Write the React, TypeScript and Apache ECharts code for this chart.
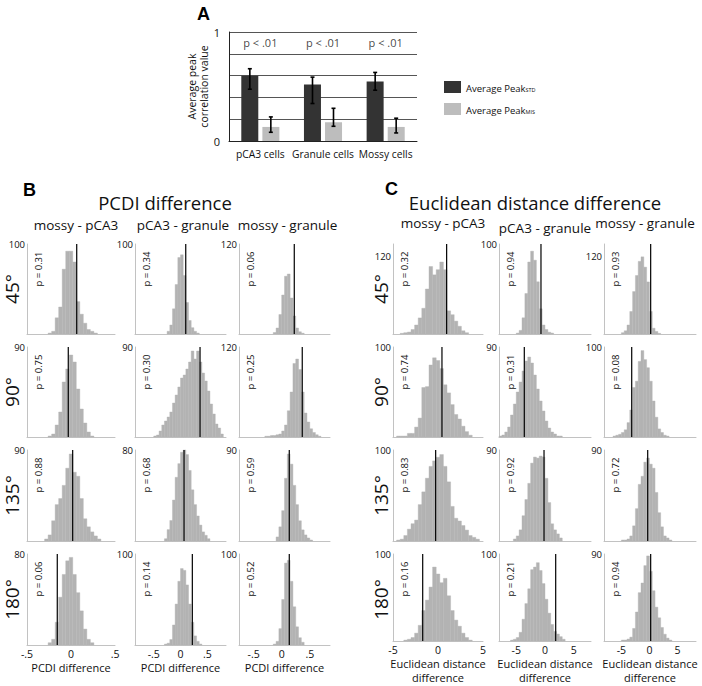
import React, { useEffect, useRef } from 'react';
import * as echarts from 'echarts';

// ---------------- Panel A data ----------------
const cellTypes = ['pCA3 cells', 'Granule cells', 'Mossy cells'];
const peakStd = [0.598, 0.518, 0.546];
const peakStdLow = [0.475, 0.344, 0.466];
const peakStdHigh = [0.663, 0.586, 0.629];
const peakMis = [0.129, 0.172, 0.129];
const peakMisLow = [0.08, 0.135, 0.074];
const peakMisHigh = [0.221, 0.3, 0.209];
const pTextA = ['p < .01', 'p < .01', 'p < .01'];
const yTicksA = [0, 1];

// ---------------- Panels B / C labels ----------------
const angles = ['45°', '90°', '135°', '180°'];
const comparisons = ['mossy - pCA3', 'pCA3 - granule', 'mossy - granule'];

// ---------------- Panel B: PCDI difference (counts per bin) ----------------
const pcdi45 = [
  [1, 3, 18, 30, 72, 92, 92, 80, 36, 22, 12, 5, 3, 1],
  [3, 10, 28, 55, 85, 88, 65, 35, 15, 7, 3, 1],
  [2, 8, 26, 52, 77, 80, 48, 24, 8, 3, 1],
];
const pcdi90 = [
  [1, 3, 12, 25, 55, 68, 82, 75, 48, 28, 14, 5, 1],
  [1, 2, 6, 12, 16, 20, 25, 34, 42, 50, 59, 62, 68, 75, 86, 78, 86, 75, 64, 56, 46, 33, 23, 13, 9, 3],
  [1, 1, 2, 2, 3, 4, 8, 16, 35, 60, 98, 104, 90, 60, 32, 20, 11, 6, 3, 1],
];
const pcdi135 = [
  [2, 6, 20, 36, 42, 55, 72, 86, 68, 64, 42, 22, 14, 9, 5, 2],
  [2, 10, 18, 36, 56, 68, 78, 80, 76, 62, 45, 32, 22, 14, 8, 5, 2],
  [4, 14, 30, 62, 86, 76, 55, 36, 20, 11, 6, 3, 1],
];
const pcdi180 = [
  [2, 5, 20, 42, 62, 74, 77, 62, 46, 30, 14, 5, 2],
  [1, 2, 6, 22, 45, 70, 84, 82, 66, 45, 25, 10, 4, 1],
  [1, 4, 18, 50, 90, 93, 70, 42, 20, 8, 3],
];
const pcdiBinStart = [
  [-0.26, -0.25, -0.15],
  [-0.26, -0.5, -0.3],
  [-0.3, -0.3, -0.1],
  [-0.26, -0.3, -0.15],
];
const pcdiBinWidth = [0.04, 0.05, 0.05];
const pcdiObserved = [
  [0.065, 0.098, 0.224],
  [-0.031, 0.365, 0.366],
  [0.019, 0.066, 0.135],
  [-0.156, 0.221, 0.135],
];
const pcdiP = [
  ['0.31', '0.34', '0.06'],
  ['0.75', '0.30', '0.25'],
  ['0.88', '0.68', '0.59'],
  ['0.06', '0.14', '0.52'],
];
const pcdiYMax = [
  [100, 100, 120],
  [90, 90, 120],
  [90, 80, 90],
  [80, 100, 100],
];
const pcdiYLabel = [
  [100, 100, 120],
  [90, 90, 120],
  [90, 80, 90],
  [80, 100, 100],
];
const pcdiXMin = [-0.5, -0.85, -0.76];
const pcdiXMax = [0.5, 0.85, 0.86];
const pcdiTicks = [-0.5, 0, 0.5];

// ---------------- Panel C: Euclidean distance difference ----------------
const euc45 = [
  [1, 2, 3, 7, 14, 25, 40, 70, 105, 92, 100, 112, 100, 36, 30, 20, 12, 5, 2],
  [1, 4, 18, 45, 80, 92, 82, 58, 28, 10, 5, 2, 1],
  [2, 5, 14, 35, 66, 91, 113, 120, 104, 81, 35, 9, 4, 1],
];
const euc90 = [
  [1, 1, 1, 4, 4, 11, 21, 55, 56, 80, 88, 85, 76, 58, 49, 36, 25, 20, 12, 6, 2],
  [1, 2, 5, 10, 22, 33, 45, 55, 66, 76, 80, 74, 62, 48, 36, 26, 16, 9, 5, 3, 1, 1],
  [1, 2, 3, 5, 8, 16, 30, 55, 62, 84, 96, 86, 77, 62, 40, 22, 9, 5, 2, 1],
];
const euc135 = [
  [1, 2, 6, 13, 19, 23, 40, 54, 69, 82, 88, 92, 95, 82, 65, 38, 25, 22, 17, 12, 6, 4, 2],
  [2, 5, 11, 25, 41, 57, 77, 83, 82, 84, 83, 62, 38, 17, 11, 7, 3],
  [1, 1, 2, 5, 15, 32, 56, 64, 78, 82, 76, 72, 48, 28, 14, 5, 3, 1],
];
const euc180 = [
  [1, 2, 4, 9, 18, 35, 47, 62, 85, 77, 67, 72, 52, 35, 24, 17, 9, 4, 1],
  [1, 2, 4, 10, 25, 43, 60, 82, 85, 90, 81, 66, 48, 32, 19, 11, 8, 5, 2],
  [1, 1, 2, 4, 13, 30, 50, 60, 78, 88, 72, 52, 35, 24, 14, 7, 3, 1],
];
const eucBinStart = [
  [-4.2, -5, -5],
  [-4.6, -8, -6.5],
  [-4.6, -5.5, -5],
  [-3.8, -6, -5],
];
const eucBinWidth = [0.4, 0.5, 0.5];
const eucObserved = [
  [0.96, -0.7, 0.22],
  [0.44, -3.6, -3.16],
  [-0.26, -0.17, -0.31],
  [-1.7, 1.86, 0.22],
];
const eucP = [
  ['0.32', '0.94', '0.93'],
  ['0.74', '0.31', '0.08'],
  ['0.83', '0.92', '0.72'],
  ['0.16', '0.21', '0.94'],
];
const eucYMax = [
  [140, 100, 140],
  [100, 90, 100],
  [100, 90, 90],
  [100, 100, 90],
];
const eucYLabel = [
  [120, 100, 120],
  [100, 90, 100],
  [100, 90, 90],
  [100, 100, 90],
];
const eucXMin = [-5, -8, -8.1];
const eucXMax = [5, 8, 8.3];
const eucTicks = [-5, 0, 5];

// ---------------- Layout & style ----------------
const FONT = 'Open Sans';
const BOLD_FONT = 'Liberation Sans';
const TEXT = '#111111';
const AXIS_GRAY = '#c2c2c2';
const HIST_FILL = '#b3b3b3';
const ROWS = [
  [244, 90],
  [347, 90],
  [450, 91],
  [554, 91],
];
const B_COLS = [
  [27, 88],
  [135, 91],
  [239, 91],
];
const C_COLS = [
  [393, 90],
  [499, 92],
  [604, 92],
];

function txt(text: string, x: number, y: number, size: number, opts: any = {}) {
  const align = opts.align || 'center';
  const valign = opts.valign || 'middle';
  return {
    type: 'text',
    x,
    y,
    rotation: opts.rot || 0,
    silent: true,
    style: {
      text,
      font: `${opts.weight || 'normal'} ${size}px "${opts.family || FONT}"`,
      fill: opts.color || TEXT,
      textAlign: align,
      textVerticalAlign: valign,
      align,
      verticalAlign: valign,
    },
  };
}

function fmtPcdi(v: number) {
  if (v === 0) return '0';
  return (v < 0 ? '-' : '') + String(Math.abs(v)).replace(/^0/, '');
}
function fmtEuc(v: number) {
  return String(v);
}

function buildOption() {
  const grid: any[] = [];
  const xAxis: any[] = [];
  const yAxis: any[] = [];
  const series: any[] = [];
  const graphic: any[] = [];

  // ---------- Panel A ----------
  grid.push({ left: 229, top: 32, width: 188, height: 109 });
  xAxis.push({
    gridIndex: 0,
    type: 'category',
    data: cellTypes,
    axisLine: { lineStyle: { color: '#222', width: 1 } },
    axisTick: { show: false },
    axisLabel: { interval: 0, fontSize: 10.3, color: TEXT, margin: 8, fontFamily: FONT },
  });
  yAxis.push({
    gridIndex: 0,
    type: 'value',
    min: 0,
    max: 1,
    interval: 0.2,
    axisLine: { show: true, lineStyle: { color: '#222', width: 1 } },
    axisTick: { show: false },
    splitLine: { show: true, lineStyle: { color: '#555', width: 1 } },
    axisLabel: {
      fontSize: 11,
      color: TEXT,
      margin: 9,
      fontFamily: FONT,
      formatter: (v: number) => (yTicksA.some((t) => Math.abs(t - v) < 1e-9) ? String(v) : ''),
    },
    name: 'Average peak\ncorrelation value',
    nameLocation: 'middle',
    nameRotate: 90,
    nameGap: 12,
    nameTextStyle: { fontSize: 10.5, lineHeight: 12, color: TEXT, fontFamily: FONT },
  });
  series.push({
    type: 'bar',
    name: 'Average Peak STD',
    xAxisIndex: 0,
    yAxisIndex: 0,
    data: peakStd,
    barWidth: 17,
    barGap: '24%',
    itemStyle: { color: '#333333' },
    silent: true,
  });
  series.push({
    type: 'bar',
    name: 'Average Peak MIS',
    xAxisIndex: 0,
    yAxisIndex: 0,
    data: peakMis,
    barWidth: 17,
    barGap: '24%',
    itemStyle: { color: '#bdbdbd' },
    silent: true,
  });
  const errSeries = (lows: number[], highs: number[], offset: number) => ({
    type: 'custom',
    xAxisIndex: 0,
    yAxisIndex: 0,
    silent: true,
    z: 5,
    data: lows.map((l, i) => [i, l, highs[i]]),
    encode: { x: 0, y: [1, 2] },
    renderItem: (_p: any, api: any) => {
      const i = api.value(0);
      const lo = api.coord([i, api.value(1)]);
      const hi = api.coord([i, api.value(2)]);
      const x = lo[0] + offset;
      const st = { stroke: '#000', lineWidth: 1.6 };
      return {
        type: 'group',
        children: [
          { type: 'line', shape: { x1: x, y1: lo[1], x2: x, y2: hi[1] }, style: st },
          { type: 'line', shape: { x1: x - 2, y1: lo[1], x2: x + 2, y2: lo[1] }, style: st },
          { type: 'line', shape: { x1: x - 2, y1: hi[1], x2: x + 2, y2: hi[1] }, style: st },
        ],
      };
    },
  });
  series.push(errSeries(peakStdLow, peakStdHigh, -10.5));
  series.push(errSeries(peakMisLow, peakMisHigh, 10.5));
  series.push({
    type: 'scatter',
    xAxisIndex: 0,
    yAxisIndex: 0,
    silent: true,
    symbolSize: 1,
    itemStyle: { color: 'rgba(0,0,0,0)' },
    data: pTextA.map((_t, i) => [i, 0.9]),
    label: {
      show: true,
      position: 'inside',
      formatter: (p: any) => pTextA[p.dataIndex],
      fontSize: 11,
      color: TEXT,
      fontFamily: FONT,
    },
  });

  graphic.push(txt('A', 197, 14, 18, { align: 'left', weight: 'bold', family: BOLD_FONT, color: '#000' }));

  // ---------- Panels B and C ----------
  const panels = [
    {
      counts: [pcdi45, pcdi90, pcdi135, pcdi180],
      start: pcdiBinStart,
      width: pcdiBinWidth,
      obs: pcdiObserved,
      p: pcdiP,
      ymax: pcdiYMax,
      ylab: pcdiYLabel,
      xmin: pcdiXMin,
      xmax: pcdiXMax,
      ticks: pcdiTicks,
      fmt: fmtPcdi,
      xName: 'PCDI difference',
      cols: B_COLS,
    },
    {
      counts: [euc45, euc90, euc135, euc180],
      start: eucBinStart,
      width: eucBinWidth,
      obs: eucObserved,
      p: eucP,
      ymax: eucYMax,
      ylab: eucYLabel,
      xmin: eucXMin,
      xmax: eucXMax,
      ticks: eucTicks,
      fmt: fmtEuc,
      xName: 'Euclidean distance\ndifference',
      cols: C_COLS,
    },
  ];

  panels.forEach((pan) => {
    for (let r = 0; r < 4; r++) {
      for (let c = 0; c < 3; c++) {
        const gi = grid.length;
        const [top, h] = ROWS[r];
        const [left, w] = pan.cols[c];
        const ymax = pan.ymax[r][c];
        const ylab = pan.ylab[r][c];
        const bottomRow = r === 3;
        grid.push({ left, top, width: w, height: h });
        xAxis.push({
          gridIndex: gi,
          type: 'value',
          min: pan.xmin[c],
          max: pan.xmax[c],
          axisLine: { show: true, onZero: false, lineStyle: { color: AXIS_GRAY, width: 1 } },
          axisTick: { show: false },
          splitLine: { show: false },
          axisLabel: bottomRow
            ? {
                show: true,
                customValues: pan.ticks,
                formatter: pan.fmt,
                fontSize: 10.5,
                color: TEXT,
                margin: 3,
                fontFamily: FONT,
              }
            : { show: false },
          name: bottomRow ? pan.xName : '',
          nameLocation: 'middle',
          nameGap: 15,
          nameTextStyle: { fontSize: 11, lineHeight: 14.5, color: TEXT, fontFamily: FONT },
        });
        yAxis.push({
          gridIndex: gi,
          type: 'value',
          min: 0,
          max: ymax,
          interval: ylab,
          axisLine: { show: true, onZero: false, lineStyle: { color: AXIS_GRAY, width: 1 } },
          axisTick: { show: false },
          splitLine: { show: false },
          axisLabel: {
            show: true,
            fontSize: 9.5,
            color: TEXT,
            margin: 2,
            fontFamily: FONT,
            formatter: (v: number) => (v === ylab ? String(ylab) : ''),
          },
        });
        const start = pan.start[r][c];
        const bw = pan.width[c];
        const counts = pan.counts[r][c];
        series.push({
          type: 'custom',
          xAxisIndex: gi,
          yAxisIndex: gi,
          silent: true,
          z: 2,
          data: counts.map((v, i) => [start + i * bw, start + (i + 1) * bw, v]),
          encode: { x: [0, 1], y: 2 },
          renderItem: (_p: any, api: any) => {
            const a = api.coord([api.value(0), api.value(2)]);
            const b = api.coord([api.value(1), 0]);
            return {
              type: 'rect',
              shape: { x: a[0], y: a[1], width: b[0] - a[0], height: b[1] - a[1] },
              style: { fill: HIST_FILL, stroke: HIST_FILL, lineWidth: 0.4 },
            };
          },
        });
        const obs = pan.obs[r][c];
        series.push({
          type: 'line',
          xAxisIndex: gi,
          yAxisIndex: gi,
          silent: true,
          z: 4,
          symbol: 'none',
          data: [
            [obs, 0],
            [obs, ymax],
          ],
          lineStyle: { color: '#000', width: 1.2 },
        });
        graphic.push(txt('p = ' + pan.p[r][c], left + 11, top + 25, 9.5, { rot: Math.PI / 2 }));
      }
    }
  });

  // Panel titles & headers
  graphic.push(txt('B', 23, 189.5, 18, { align: 'left', weight: 'bold', family: BOLD_FONT, color: '#000' }));
  graphic.push(txt('C', 385, 188.5, 18, { align: 'left', weight: 'bold', family: BOLD_FONT, color: '#000' }));
  graphic.push(txt('PCDI difference', 165, 202, 18.5));
  graphic.push(txt('Euclidean distance difference', 535, 202, 18.5));
  const bHeadX = [76, 183, 287.5];
  const cHeadX = [443, 545, 645];
  const cHeadY = [223, 228, 223];
  comparisons.forEach((t, i) => {
    graphic.push(txt(t, bHeadX[i], 225, 13.5));
    graphic.push(txt(t, cHeadX[i], cHeadY[i], 13.5));
  });
  angles.forEach((t, r) => {
    const cy = ROWS[r][0] + ROWS[r][1] / 2;
    graphic.push(txt(t, 12, cy, 19, { rot: Math.PI / 2 }));
    graphic.push(txt(t, 381, cy, 19, { rot: Math.PI / 2 }));
  });

  return {
    animation: false,
    backgroundColor: '#ffffff',
    textStyle: { fontFamily: FONT },
    legend: {
      data: ['Average Peak STD', 'Average Peak MIS'],
      orient: 'vertical',
      left: 439,
      top: 76,
      itemWidth: 17,
      itemHeight: 12,
      itemGap: 10,
      icon: 'rect',
      selectedMode: false,
      formatter: (n: string) => '{m|Average Peak}{s|' + (n.endsWith('STD') ? 'STD' : 'MIS') + '}',
      textStyle: {
        color: TEXT,
        fontFamily: FONT,
        rich: {
          m: { fontSize: 9.5, fontFamily: FONT, color: TEXT, verticalAlign: 'bottom', lineHeight: 12 },
          s: { fontSize: 5.5, fontFamily: FONT, color: TEXT, verticalAlign: 'bottom', lineHeight: 12 },
        },
      },
    },
    grid,
    xAxis,
    yAxis,
    series,
    graphic,
  };
}

export default function App() {
  const ref = useRef<HTMLDivElement>(null);
  useEffect(() => {
    if (!ref.current) return;
    const chart = echarts.init(ref.current, null, { renderer: 'svg' });
    chart.setOption(buildOption() as any);
    return () => chart.dispose();
  }, []);
  return (
    <div
      ref={ref}
      style={{ position: 'absolute', left: 0, top: 0, width: 702, height: 686, background: '#fff' }}
    />
  );
}
